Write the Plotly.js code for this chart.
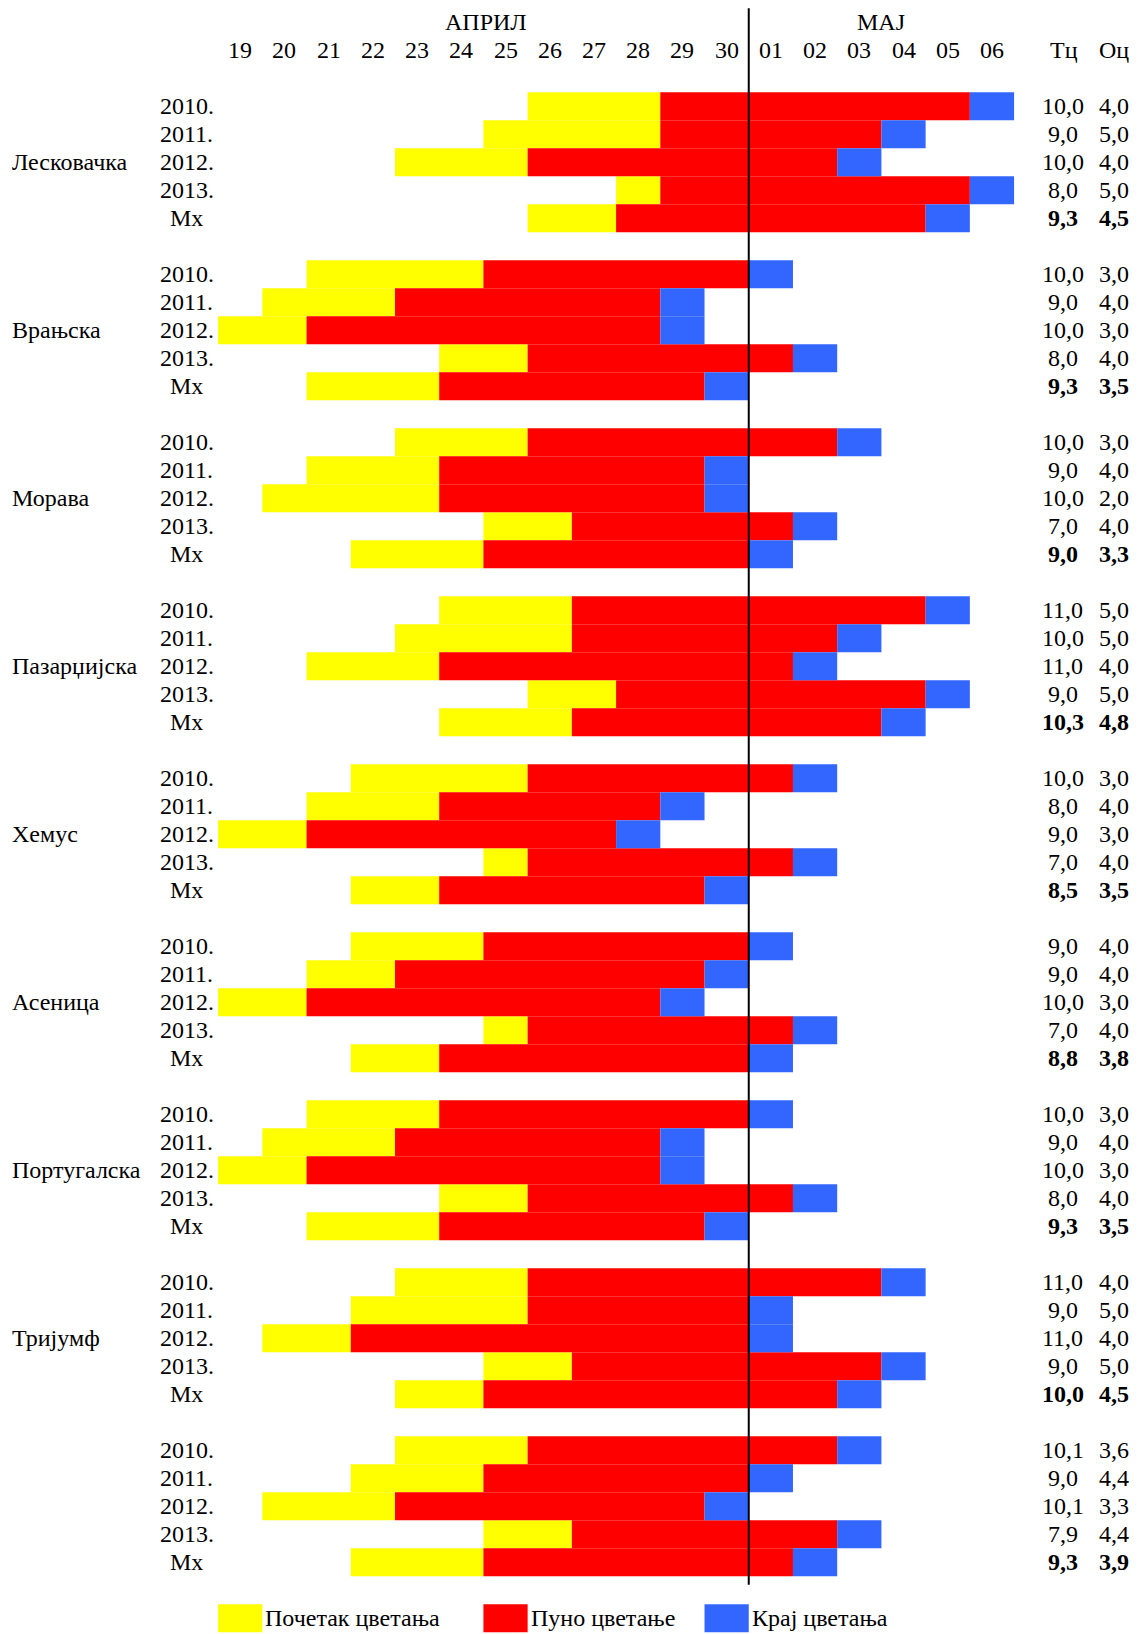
<!DOCTYPE html>
<html><head><meta charset="utf-8">
<script src="https://cdn.plot.ly/plotly-3.0.1.min.js"></script>
<style>html,body{margin:0;padding:0;background:#fff}</style>
</head><body>
<div id="chart" style="width:1139px;height:1634px"></div>
<script>
// ---- data ----
const days = ['19.04','20.04','21.04','22.04','23.04','24.04','25.04','26.04','27.04','28.04','29.04','30.04',
              '01.05','02.05','03.05','04.05','05.05','06.05'];
const dayTicks = ['19','20','21','22','23','24','25','26','27','28','29','30','01','02','03','04','05','06'];
const months = ['АПРИЛ','МАЈ'];
const varieties = ['Лесковачка','Врањска','Морава','Пазарџијска','Хемус','Асеница','Португалска','Тријумф',''];
const rowLabels = ['2010.','2011.','2012.','2013.','Мх'];
const colHeads = ['Тц','Оц'];
const legendNames = ['Почетак цветања','Пуно цветање','Крај цветања'];

// start of flowering (Почетак цветања)
const beginStart = [
  ['26.04','25.04','23.04','28.04','26.04'],
  ['21.04','20.04','19.04','24.04','21.04'],
  ['23.04','21.04','20.04','25.04','22.04'],
  ['24.04','23.04','21.04','26.04','24.04'],
  ['22.04','21.04','19.04','25.04','22.04'],
  ['22.04','21.04','19.04','25.04','22.04'],
  ['21.04','20.04','19.04','24.04','21.04'],
  ['23.04','22.04','20.04','25.04','23.04'],
  ['23.04','22.04','20.04','25.04','22.04']
];
// full flowering (Пуно цветање)
const fullStart = [
  ['29.04','29.04','26.04','29.04','28.04'],
  ['25.04','23.04','21.04','26.04','24.04'],
  ['26.04','24.04','24.04','27.04','25.04'],
  ['27.04','27.04','24.04','28.04','27.04'],
  ['26.04','24.04','21.04','26.04','24.04'],
  ['25.04','23.04','21.04','26.04','24.04'],
  ['24.04','23.04','21.04','26.04','24.04'],
  ['26.04','26.04','22.04','27.04','25.04'],
  ['26.04','25.04','23.04','27.04','25.04']
];
// end of flowering (Крај цветања)
const endDay = [
  ['06.05','04.05','03.05','06.05','05.05'],
  ['01.05','29.04','29.04','02.05','30.04'],
  ['03.05','30.04','30.04','02.05','01.05'],
  ['05.05','03.05','02.05','05.05','04.05'],
  ['02.05','29.04','28.04','02.05','30.04'],
  ['01.05','30.04','29.04','02.05','01.05'],
  ['01.05','29.04','29.04','02.05','30.04'],
  ['04.05','01.05','01.05','04.05','03.05'],
  ['03.05','01.05','30.04','03.05','02.05']
];
const tc = [
  [10.0, 9.0, 10.0, 8.0, 9.3],
  [10.0, 9.0, 10.0, 8.0, 9.3],
  [10.0, 9.0, 10.0, 7.0, 9.0],
  [11.0, 10.0, 11.0, 9.0, 10.3],
  [10.0, 8.0, 9.0, 7.0, 8.5],
  [9.0, 9.0, 10.0, 7.0, 8.8],
  [10.0, 9.0, 10.0, 8.0, 9.3],
  [11.0, 9.0, 11.0, 9.0, 10.0],
  [10.1, 9.0, 10.1, 7.9, 9.3]
];
const oc = [
  [4.0, 5.0, 4.0, 5.0, 4.5],
  [3.0, 4.0, 3.0, 4.0, 3.5],
  [3.0, 4.0, 2.0, 4.0, 3.3],
  [5.0, 5.0, 4.0, 5.0, 4.8],
  [3.0, 4.0, 3.0, 4.0, 3.5],
  [4.0, 4.0, 3.0, 4.0, 3.8],
  [3.0, 4.0, 3.0, 4.0, 3.5],
  [4.0, 5.0, 4.0, 5.0, 4.5],
  [3.6, 4.4, 3.3, 4.4, 3.9]
];

// ---- style ----
const COLORS = ['#FFFF00', '#FF0000', '#3366FF'];
const FONT = {family: '"Liberation Serif", "Times New Roman", serif', size: 24, color: '#000'};
const ROWS_PER_BLOCK = 6;

const idx = d => days.indexOf(d);
const fmt = v => v.toFixed(1).replace('.', ',');

const rows = [], yB = [], yL = [], rB = [], rL = [], bB = [], bL = [];
const annotations = [];
varieties.forEach((name, b) => {
  const base = ROWS_PER_BLOCK * b;
  if (name) annotations.push({x: -5.2, y: base + 2, xref: 'x', yref: 'y', text: name,
    xanchor: 'left', yanchor: 'middle', showarrow: false, font: FONT});
  rowLabels.forEach((lab, r) => {
    const row = base + r;
    const s = idx(beginStart[b][r]), f = idx(fullStart[b][r]), e = idx(endDay[b][r]);
    rows.push(row);
    yB.push(s - 0.5); yL.push(f - s);
    rB.push(f - 0.5); rL.push(e - f);
    bB.push(e - 0.5); bL.push(1);
    annotations.push({x: -1.214, y: row, xref: 'x', yref: 'y', text: lab, xanchor: 'center',
      yanchor: 'middle', showarrow: false, font: FONT});
    const isMean = r === rowLabels.length - 1;
    const t1 = isMean ? '<b>' + fmt(tc[b][r]) + '</b>' : fmt(tc[b][r]);
    const t2 = isMean ? '<b>' + fmt(oc[b][r]) + '</b>' : fmt(oc[b][r]);
    annotations.push({x: 18.6, y: row, xref: 'x', yref: 'y', text: t1, xanchor: 'center',
      yanchor: 'middle', showarrow: false, font: FONT});
    annotations.push({x: 19.77, y: row, xref: 'x', yref: 'y', text: t2, xanchor: 'center',
      yanchor: 'middle', showarrow: false, font: FONT});
  });
});

// header
dayTicks.forEach((t, i) => annotations.push({x: i, y: -2, xref: 'x', yref: 'y', text: t,
  xanchor: 'center', yanchor: 'middle', showarrow: false, font: FONT}));
annotations.push({x: 5.55, y: -3, xref: 'x', yref: 'y', text: months[0], xanchor: 'center',
  yanchor: 'middle', showarrow: false, font: FONT});
annotations.push({x: 14.5, y: -3, xref: 'x', yref: 'y', text: months[1], xanchor: 'center',
  yanchor: 'middle', showarrow: false, font: FONT});
annotations.push({x: 18.62, y: -2, xref: 'x', yref: 'y', text: colHeads[0], xanchor: 'center',
  yanchor: 'middle', showarrow: false, font: FONT});
annotations.push({x: 19.77, y: -2, xref: 'x', yref: 'y', text: colHeads[1], xanchor: 'center',
  yanchor: 'middle', showarrow: false, font: FONT});

// legend (cells aligned with day columns)
const legendCols = ['19.04', '25.04', '30.04'];
const legendRow = ROWS_PER_BLOCK * varieties.length;
const shapes = [];
legendCols.forEach((d, k) => {
  const c = idx(d);
  shapes.push({type: 'rect', xref: 'x', yref: 'y', x0: c - 0.5, x1: c + 0.5,
    y0: legendRow - 0.5, y1: legendRow + 0.5, fillcolor: COLORS[k], line: {width: 0}, layer: 'below'});
  annotations.push({x: c + 0.5, y: legendRow, xref: 'x', yref: 'y', text: legendNames[k],
    xanchor: 'left', yanchor: 'middle', xshift: 1, showarrow: false, font: FONT});
});

// month boundary line
const lastRow = ROWS_PER_BLOCK * (varieties.length - 1) + rowLabels.length - 1;
shapes.push({type: 'line', xref: 'x', yref: 'y', x0: idx('01.05') - 0.5, x1: idx('01.05') - 0.5,
  y0: -3.5, y1: lastRow + 0.8, line: {color: '#000', width: 2}, layer: 'above'});

const mk = (base, len, color) => ({type: 'bar', orientation: 'h', y: rows, x: len, base: base,
  width: 1, marker: {color: color, line: {width: 0}}, hoverinfo: 'skip', showlegend: false});

const data = [mk(yB, yL, COLORS[0]), mk(rB, rL, COLORS[1]), mk(bB, bL, COLORS[2])];

const layout = {
  width: 1139, height: 1634,
  margin: {l: 0, r: 0, t: 0, b: 0, pad: 0},
  paper_bgcolor: '#fff', plot_bgcolor: '#fff',
  barmode: 'overlay', showlegend: false,
  xaxis: {range: [-5.432, 20.325], visible: false, fixedrange: true},
  yaxis: {range: [54.561, -3.796], visible: false, fixedrange: true},
  annotations: annotations, shapes: shapes,
  font: FONT
};
Plotly.newPlot('chart', data, layout, {staticPlot: true, displayModeBar: false});
</script>
</body></html>
